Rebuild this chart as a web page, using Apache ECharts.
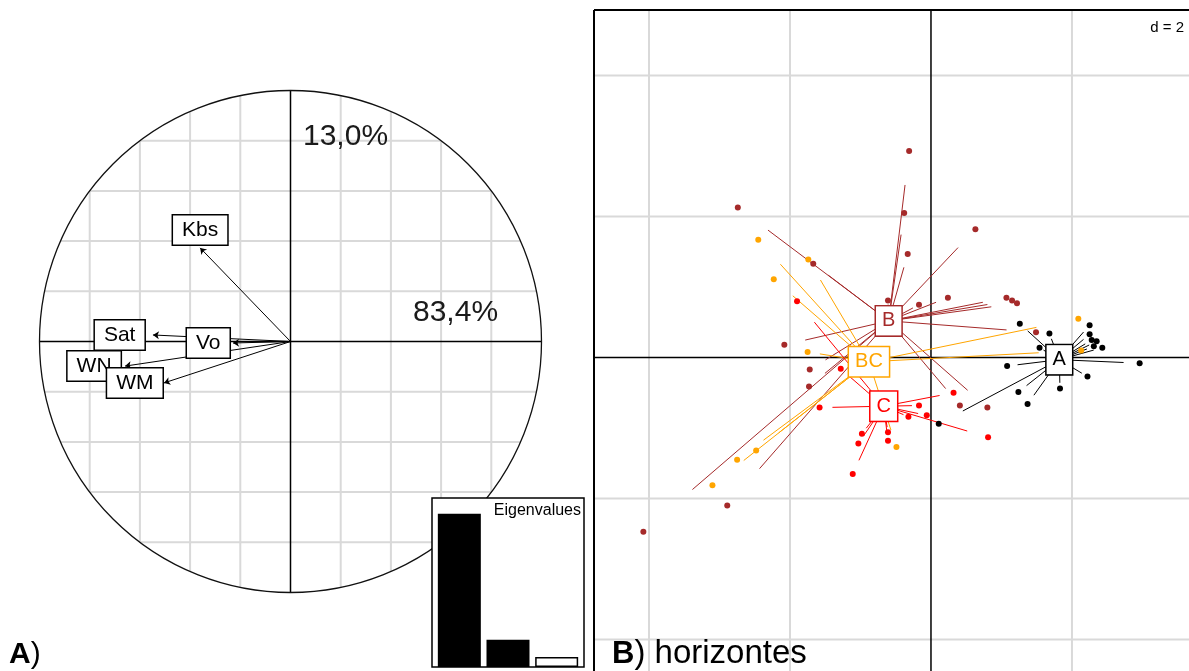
<!DOCTYPE html>
<html><head><meta charset="utf-8">
<script src="https://cdn.jsdelivr.net/npm/echarts@6/dist/echarts.min.js"></script>
<style>html,body{margin:0;padding:0;background:#fff}#c{width:1189px;height:671px}</style>
</head><body><div id="c"></div>
<script>
// ===== Panel A: correlation circle =====
const varNames = ['Kbs', 'Sat', 'Vo', 'WN', 'WM'];
const varX = [-0.360, -0.548, -0.229, -0.659, -0.504];
const varY = [0.373, 0.026, -0.006, -0.098, -0.165];
const inertiaLabels = ['83,4%', '13,0%'];
const circleGridTicks = [-0.8, -0.6, -0.4, -0.2, 0.2, 0.4, 0.6, 0.8];
const eigenLabels = ['1', '2', '3'];
const eigenValues = [4.17, 0.74, 0.27];

// ===== Panel B: horizontes (class scatter) =====
const groups = ['A', 'B', 'BC', 'C'];
const centroidX = [1.82, -0.60, -0.88, -0.67];
const centroidY = [-0.03, 0.52, -0.06, -0.69];
const aX = [1.26, 1.68, 1.54, 1.08, 1.24, 1.37, 1.83, 2.22, 2.96, 2.43, 2.25, 2.25, 2.28, 2.35, 2.31, 0.11];
const aY = [0.48, 0.34, 0.14, -0.12, -0.49, -0.66, -0.44, -0.27, -0.08, 0.14, 0.46, 0.33, 0.25, 0.23, 0.16, -0.94];
const bX = [-0.31, -2.74, -0.38, 0.63, -0.33, -1.67, 0.24, -0.17, -0.61, 1.07, 1.22, 1.15, 1.49, -2.08, -1.72, -1.73, 0.41, 0.80, -4.08, -2.89];
const bY = [2.93, 2.13, 2.05, 1.82, 1.47, 1.33, 0.85, 0.75, 0.81, 0.85, 0.77, 0.81, 0.36, 0.18, -0.17, -0.41, -0.68, -0.71, -2.47, -2.10];
const bcX = [-2.45, -1.74, -2.23, -1.75, -3.10, -2.75, -2.48, -0.49, 2.09, 2.13];
const bcY = [1.67, 1.39, 1.11, 0.08, -1.81, -1.45, -1.32, -1.27, 0.55, 0.10];
const cX = [-1.90, -1.28, -1.58, -1.11, -0.98, -1.03, -0.61, -0.61, -0.17, -0.32, -0.06, 0.32, 0.81];
const cY = [0.80, -0.16, -0.71, -1.65, -1.08, -1.22, -1.06, -1.18, -0.68, -0.84, -0.82, -0.50, -1.13];
const gridTicksX = [-4, -2, 0, 2];
const gridTicksY = [-4, -2, 0, 2, 4];
const gridStepLabel = 'd = 2';

// ===== styling =====
const FONT = '"Liberation Sans", Arial, sans-serif';
const groupColors = { A: '#000000', B: '#A52A2A', BC: '#FFA500', C: '#FF0000' };
const groupPts = { A: [aX, aY], B: [bX, bY], BC: [bcX, bcY], C: [cX, cY] };
const STAR = 0.8;
const GRIDGRAY = '#d9d9d9';
const varLabelPlace = { Kbs: ['top', 3], Sat: ['left', 8], Vo: ['left', 3], WN: ['left', 4], WM: ['left', 1] };

const chart = echarts.init(document.getElementById('c'), null, { renderer: 'canvas', width: 1189, height: 671 });

function ln(p1, p2, stroke, w) {
  return { type: 'line', shape: { x1: p1[0], y1: p1[1], x2: p2[0], y2: p2[1] }, style: { stroke: stroke, lineWidth: w } };
}

const series = [];

// circle background: grid chords, axes, circle
series.push({
  type: 'custom', xAxisIndex: 0, yAxisIndex: 0, z: 1, silent: true, clip: false,
  data: [[0, 0]],
  renderItem: function (params, api) {
    const o = api.coord([0, 0]);
    const r = api.coord([1, 0])[0] - o[0];
    const ch = [];
    circleGridTicks.forEach(function (v) {
      const h = Math.sqrt(1 - v * v);
      ch.push(ln(api.coord([v, -h]), api.coord([v, h]), GRIDGRAY, 2));
      ch.push(ln(api.coord([-h, v]), api.coord([h, v]), GRIDGRAY, 2));
    });
    ch.push(ln(api.coord([-1, 0]), api.coord([1, 0]), '#000', 1.5));
    ch.push(ln(api.coord([0, -1]), api.coord([0, 1]), '#000', 1.5));
    ch.push({ type: 'circle', shape: { cx: o[0], cy: o[1], r: r }, style: { fill: 'transparent', stroke: '#111', lineWidth: 1.3 } });
    return { type: 'group', children: ch };
  }
});

// variable arrows
series.push({
  type: 'lines', coordinateSystem: 'cartesian2d', xAxisIndex: 0, yAxisIndex: 0, z: 3, silent: true,
  symbol: ['none', 'arrow'], symbolSize: 6,
  lineStyle: { color: '#000', width: 1, opacity: 1 },
  data: varNames.map(function (n, i) { return { coords: [[0, 0], [varX[i], varY[i]]] }; })
});

// variable labels
series.push({
  type: 'scatter', xAxisIndex: 0, yAxisIndex: 0, z: 5, silent: true, symbolSize: 1,
  itemStyle: { color: 'rgba(0,0,0,0)', opacity: 1 },
  data: varNames.map(function (n, i) {
    return { value: [varX[i], varY[i]], name: n, label: { position: varLabelPlace[n][0], distance: varLabelPlace[n][1] } };
  }),
  label: {
    show: true, formatter: '{b}', fontSize: 21, fontFamily: FONT, color: '#000',
    backgroundColor: '#fff', borderColor: '#000', borderWidth: 1.5, padding: [4, 9], lineHeight: 21
  }
});

// right panel frame (left/top), background grid + axes
series.push({
  type: 'custom', xAxisIndex: 1, yAxisIndex: 1, z: 1, silent: true, clip: false,
  data: [[0, 0]],
  renderItem: function (params, api) {
    const cs = params.coordSys;
    const ch = [];
    gridTicksX.forEach(function (v) {
      if (v === 0) return;
      const x = api.coord([v, 0])[0];
      ch.push(ln([x, cs.y], [x, cs.y + cs.height], GRIDGRAY, 2));
    });
    gridTicksY.forEach(function (v) {
      if (v === 0) return;
      const y = api.coord([0, v])[1];
      ch.push(ln([cs.x, y], [cs.x + cs.width, y], GRIDGRAY, 2));
    });
    const o = api.coord([0, 0]);
    ch.push(ln([o[0], cs.y], [o[0], cs.y + cs.height], '#000', 1.5));
    ch.push(ln([cs.x, o[1]], [cs.x + cs.width, o[1]], '#000', 1.5));
    ch.push(ln([cs.x, cs.y], [cs.x + cs.width, cs.y], '#000', 2));
    ch.push(ln([cs.x, cs.y], [cs.x, cs.y + cs.height], '#000', 2));
    return { type: 'group', children: ch };
  }
});

// stars and points for each group
groups.forEach(function (g, gi) {
  const xs = groupPts[g][0], ys = groupPts[g][1];
  const cx = centroidX[gi], cy = centroidY[gi];
  series.push({
    type: 'lines', coordinateSystem: 'cartesian2d', xAxisIndex: 1, yAxisIndex: 1, z: 3, silent: true,
    symbol: ['none', 'none'],
    lineStyle: { color: groupColors[g], width: 1, opacity: 1 },
    data: xs.map(function (x, i) { return { coords: [[cx, cy], [cx + STAR * (x - cx), cy + STAR * (ys[i] - cy)]] }; })
  });
  series.push({
    type: 'scatter', xAxisIndex: 1, yAxisIndex: 1, z: 4, silent: true,
    symbol: 'circle', symbolSize: 6, itemStyle: { color: groupColors[g], opacity: 1 },
    data: xs.map(function (x, i) { return [x, ys[i]]; })
  });
});

// group labels
series.push({
  type: 'scatter', xAxisIndex: 1, yAxisIndex: 1, z: 8, silent: true, symbolSize: 1,
  itemStyle: { color: 'rgba(0,0,0,0)', opacity: 1 },
  data: groups.map(function (g, i) {
    return { value: [centroidX[i], centroidY[i]], name: g, label: { color: groupColors[g], borderColor: groupColors[g] } };
  }),
  label: {
    show: true, position: 'inside', formatter: '{b}', fontSize: 20, fontFamily: FONT,
    backgroundColor: '#fff', borderWidth: 1.5, padding: [5, 6, 4, 6], lineHeight: 20
  }
});

// eigenvalue bars
series.push({
  type: 'bar', xAxisIndex: 2, yAxisIndex: 2, z: 60, silent: true, barWidth: 43,
  data: eigenValues.map(function (v, i) {
    return { value: v, itemStyle: i < 2 ? { color: '#000' } : { color: '#fff', borderColor: '#000', borderWidth: 1.5 } };
  })
});

const option = {
  backgroundColor: '#fff',
  animation: false,
  grid: [
    { left: 39.5, top: 90.5, width: 502, height: 502 },
    { left: 594, top: 10, width: 595, height: 661 },
    { left: 435, top: 498, width: 146, height: 169 }
  ],
  xAxis: [
    { gridIndex: 0, type: 'value', min: -1, max: 1, show: false },
    { gridIndex: 1, type: 'value', min: -4.78, max: 3.66, show: false },
    { gridIndex: 2, type: 'category', data: eigenLabels, show: false }
  ],
  yAxis: [
    { gridIndex: 0, type: 'value', min: -1, max: 1, show: false },
    { gridIndex: 1, type: 'value', min: -4.446, max: 4.93, show: false },
    { gridIndex: 2, type: 'value', min: 0, max: 4.6, show: false }
  ],
  series: series,
  graphic: [
    { type: 'rect', z: 50, silent: true, shape: { x: 432, y: 498, width: 152, height: 169 }, style: { fill: '#fff', stroke: '#000', lineWidth: 1.5 } },
    { type: 'text', z: 70, silent: true, x: 583, y: 511, style: { text: 'Eigenvalues', fontSize: 16, fontFamily: FONT, fill: '#000', align: 'right', verticalAlign: 'middle', backgroundColor: '#fff', padding: [4, 2, 4, 12] } },
    { type: 'text', z: 5, silent: true, x: 303, y: 137, style: { text: inertiaLabels[1], fontSize: 30, fontFamily: FONT, fill: '#1a1a1a', align: 'left', verticalAlign: 'middle' } },
    { type: 'text', z: 5, silent: true, x: 413, y: 313, style: { text: inertiaLabels[0], fontSize: 30, fontFamily: FONT, fill: '#1a1a1a', align: 'left', verticalAlign: 'middle' } },
    { type: 'text', z: 5, silent: true, x: 1184, y: 28, style: { text: gridStepLabel, fontSize: 15, fontFamily: FONT, fill: '#000', align: 'right', verticalAlign: 'middle' } },
    { type: 'text', z: 5, silent: true, x: 9, y: 655, style: { text: '{b|A})', fontSize: 30, fontFamily: FONT, fill: '#000', align: 'left', verticalAlign: 'middle', rich: { b: { fontSize: 30, fontFamily: FONT, fontWeight: 'bold', fill: '#000' } } } },
    { type: 'text', z: 5, silent: true, x: 612, y: 654, style: { text: '{b|B}) horizontes', fontSize: 33, fontFamily: FONT, fill: '#000', align: 'left', verticalAlign: 'middle', rich: { b: { fontSize: 31, fontFamily: FONT, fontWeight: 'bold', fill: '#000' } } } }
  ]
};
chart.setOption(option);
</script>
</body></html>
